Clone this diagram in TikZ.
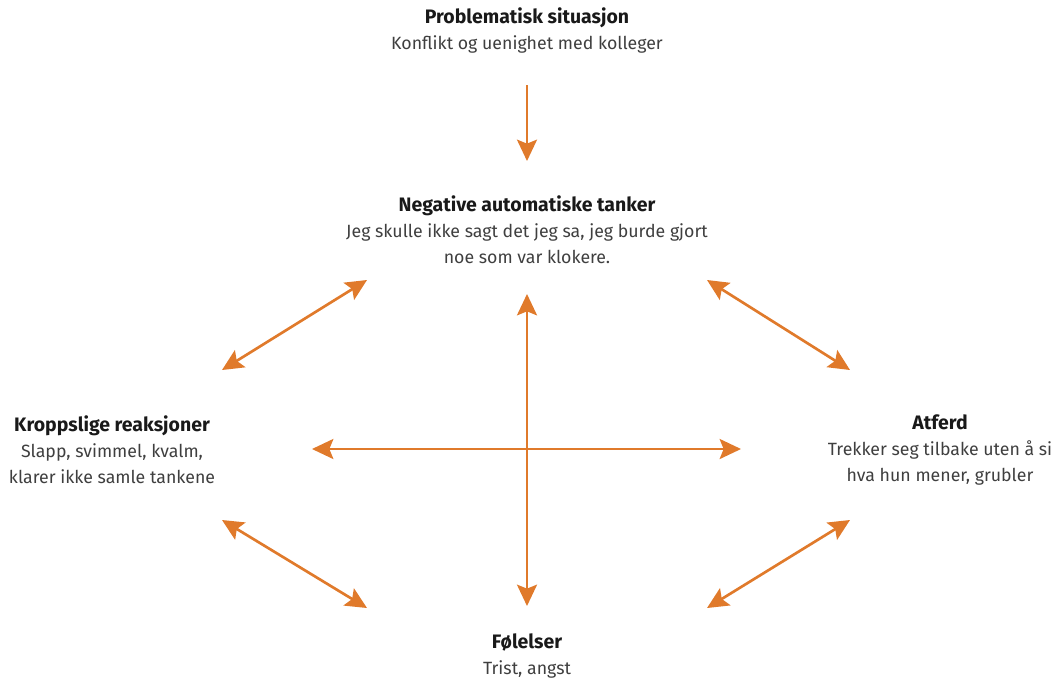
\documentclass[tikz,border=0pt]{standalone}
\usepackage{fontspec}
\setmainfont{Fira Sans}
\usetikzlibrary{arrows.meta}

\definecolor{pil}{HTML}{E07A2B}
\definecolor{tekst}{HTML}{3F3F3F}

\tikzset{
  boks/.style={align=center, inner sep=0.75pt, text=tekst, font=\fontsize{13.3}{19.5}\selectfont},
  pilen/.style={draw=pil, line width=2pt, -{Stealth[length=16pt, width=15pt, inset=3pt]}},
  dobbel/.style={pilen, {Stealth[length=16pt, width=15pt, inset=3pt]}-{Stealth[length=16pt, width=15pt, inset=3pt]}}
}
\newcommand{\tittel}[1]{{\fontsize{14.6}{19.5}\selectfont\bfseries\color{black!90}#1}}

\begin{document}
\begin{tikzpicture}[x=0.75pt,y=0.75pt,yscale=-1,xscale=1]
\useasboundingbox (0,0) rectangle (1055,678);

% Text Node
\node[boks] (sit) at (527,30) {\tittel{Problematisk situasjon}\\Konflikt og uenighet med kolleger};
% Text Node
\node[boks] (nat) at (527,230) {\tittel{Negative automatiske tanker}\\Jeg skulle ikke sagt det jeg sa, jeg burde gjort\\noe som var klokere.};
% Text Node
\node[boks] (kro) at (112,450) {\tittel{Kroppslige reaksjoner}\\Slapp, svimmel, kvalm,\\klarer ikke samle tankene};
% Text Node
\node[boks] (atf) at (940,450) {\tittel{Atferd}\\Trekker seg tilbake uten å si\\hva hun mener, grubler};
% Text Node
\node[boks] (fol) at (527,656) {\tittel{Følelser}\\Trist, angst};

% arrow ends
\coordinate (sit-s) at (527,85);
\coordinate (nat-n) at (527,161);
\coordinate (nat-s) at (527,294);
\coordinate (fol-n) at (527,606);
\coordinate (kro-e) at (312,449);
\coordinate (atf-w) at (741,449);
\coordinate (nat-sw) at (367,280);
\coordinate (kro-ne) at (222,370);
\coordinate (nat-se) at (707,280);
\coordinate (atf-nw) at (850,370);
\coordinate (kro-se) at (222,520);
\coordinate (fol-nw) at (367,608);
\coordinate (fol-ne) at (707,608);
\coordinate (atf-sw) at (850,520);

%Straight Lines
\draw[pilen] (sit-s) -- (nat-n);
%Straight Lines
\draw[dobbel] (nat-s) -- (fol-n);
%Straight Lines
\draw[dobbel] (kro-e) -- (atf-w);
%Straight Lines
\draw[dobbel] (kro-ne) -- (nat-sw);
%Straight Lines
\draw[dobbel] (nat-se) -- (atf-nw);
%Straight Lines
\draw[dobbel] (kro-se) -- (fol-nw);
%Straight Lines
\draw[dobbel] (fol-ne) -- (atf-sw);

\end{tikzpicture}
\end{document}
